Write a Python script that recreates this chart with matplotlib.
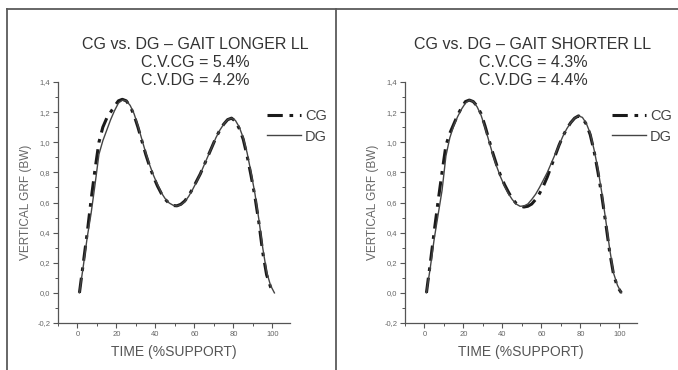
import numpy as np
import matplotlib
matplotlib.use('Agg')
import matplotlib.pyplot as plt
from matplotlib.lines import Line2D
from matplotlib.ticker import MultipleLocator, FuncFormatter

plt.rcParams['font.family'] = ['Liberation Sans', 'DejaVu Sans']

# % of support (time axis), shared by all curves
time = [1, 3, 5, 7, 9, 11, 13, 15, 17, 19, 21, 23, 25, 27, 29, 31, 33, 35, 37, 39,
        41, 43, 45, 47, 49, 51, 53, 55, 57, 59, 61, 63, 65, 67, 69, 71, 73, 75, 77, 79,
        81, 83, 85, 87, 89, 91, 93, 95, 97, 99, 101]

# gait longer LL
cg_longer = [0.00, 0.20, 0.40, 0.62, 0.82, 1.00, 1.10, 1.16, 1.20, 1.24, 1.275, 1.285, 1.275, 1.24, 1.18, 1.10,
             1.01, 0.92, 0.84, 0.77, 0.71, 0.66, 0.62, 0.595, 0.58, 0.578, 0.588, 0.61, 0.645, 0.69,
             0.74, 0.79, 0.85, 0.91, 0.97, 1.03, 1.08, 1.12, 1.15, 1.16, 1.14, 1.09, 1.02, 0.91, 0.78,
             0.64, 0.47, 0.27, 0.12, 0.04, 0.00]
dg_longer = [0.00, 0.18, 0.37, 0.53, 0.72, 0.92, 1.01, 1.08, 1.15, 1.21, 1.26, 1.28, 1.275, 1.245, 1.19, 1.11,
             1.02, 0.93, 0.85, 0.78, 0.72, 0.665, 0.625, 0.597, 0.582, 0.577, 0.585, 0.605, 0.64, 0.685,
             0.735, 0.79, 0.85, 0.91, 0.97, 1.03, 1.08, 1.12, 1.15, 1.16, 1.145, 1.10, 1.03, 0.93, 0.80,
             0.66, 0.49, 0.30, 0.14, 0.05, 0.00]

# gait shorter LL
cg_shorter = [0.00, 0.20, 0.41, 0.61, 0.80, 0.98, 1.06, 1.12, 1.18, 1.23, 1.27, 1.28, 1.27, 1.24, 1.19, 1.11,
              1.02, 0.93, 0.85, 0.78, 0.72, 0.67, 0.625, 0.595, 0.577, 0.57, 0.575, 0.59, 0.62, 0.66,
              0.71, 0.77, 0.84, 0.91, 0.98, 1.04, 1.09, 1.13, 1.16, 1.175, 1.16, 1.12, 1.05, 0.94, 0.80,
              0.64, 0.46, 0.27, 0.12, 0.04, 0.00]
dg_shorter = [0.00, 0.17, 0.36, 0.52, 0.68, 0.91, 1.03, 1.11, 1.17, 1.22, 1.26, 1.28, 1.27, 1.235, 1.18, 1.10,
              1.01, 0.92, 0.84, 0.77, 0.71, 0.66, 0.62, 0.59, 0.575, 0.577, 0.59, 0.62, 0.655, 0.70,
              0.75, 0.80, 0.86, 0.92, 0.98, 1.04, 1.09, 1.13, 1.16, 1.175, 1.165, 1.125, 1.06, 0.95, 0.82,
              0.66, 0.48, 0.29, 0.13, 0.05, 0.00]

titles = ['CG vs. DG \u2013 GAIT LONGER LL\nC.V.CG = 5.4%\nC.V.DG = 4.2%',
          'CG vs. DG \u2013 GAIT SHORTER LL\nC.V.CG = 4.3%\nC.V.DG = 4.4%']

W, H = 678, 370
fig = plt.figure(figsize=(W / 100, H / 100), dpi=100)


def fx(px):
    return px / W


def fy(py):
    return 1 - py / H


# frame lines
fig.add_artist(Line2D([fx(7), 1], [fy(9), fy(9)], color='#5a5a5a', lw=1.3))
fig.add_artist(Line2D([fx(7), fx(7)], [fy(9), 0], color='#5a5a5a', lw=1.3))
fig.add_artist(Line2D([fx(336), fx(336)], [fy(9), 0], color='#5a5a5a', lw=1.3))

panels = [
    (58, cg_longer, dg_longer, titles[0], 195, 267),
    (405, cg_shorter, dg_shorter, titles[1], 533, 612),
]

for left, cg, dg, title, tx, lx in panels:
    ax = fig.add_axes([fx(left), fy(323), 232 / W, 241 / H])
    ax.plot(time, cg, color='#1a1a1a', lw=2.2, dashes=(5, 2.2, 1.2, 2.2), label='CG')
    ax.plot(time, dg, color='#444444', lw=1.0, label='DG')
    ax.set_xlim(-10, 109)
    ax.set_ylim(-0.2, 1.4)
    for s in ['top', 'right']:
        ax.spines[s].set_visible(False)
    for s in ['left', 'bottom']:
        ax.spines[s].set_color('#555555')
        ax.spines[s].set_linewidth(0.9)
    ax.xaxis.set_major_locator(MultipleLocator(20))
    ax.xaxis.set_minor_locator(MultipleLocator(10))
    ax.yaxis.set_major_locator(MultipleLocator(0.2))
    ax.yaxis.set_minor_locator(MultipleLocator(0.1))
    ax.set_xticks(np.arange(0, 101, 20))
    ax.yaxis.set_major_formatter(FuncFormatter(lambda v, p: ('%.1f' % v).replace('.', ',').replace('\u2212', '-')))
    ax.tick_params(which='major', direction='out', length=3.5, width=0.8, color='#555555',
                   labelsize=5.5, labelcolor='#666666', pad=2)
    ax.tick_params(which='minor', direction='out', length=2, width=0.7, color='#555555')
    ax.set_ylabel('VERTICAL GRF (BW)', fontsize=8.5, color='#666666', labelpad=4)
    ax.set_xlabel('TIME (%SUPPORT)', fontsize=10, color='#555555', labelpad=5)
    fig.text(fx(tx), fy(37), title, ha='center', va='top', fontsize=11.5, color='#333333',
             linespacing=1.25)
    ax.legend(loc='upper left', bbox_to_anchor=(fx(lx), fy(109)), bbox_transform=fig.transFigure,
              frameon=False, fontsize=10.5, handlelength=2.3, handletextpad=0.3,
              labelspacing=0.45, borderpad=0, borderaxespad=0, labelcolor='#444444')

fig.savefig('out.png', dpi=100)
